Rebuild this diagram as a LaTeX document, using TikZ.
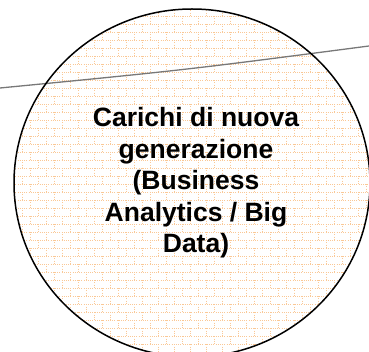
\documentclass[tikz,border=0pt]{standalone}
\usepackage{fontspec}
\setmainfont{Liberation Sans}
\definecolor{brickc}{RGB}{250,200,150}
\definecolor{linec}{RGB}{120,120,120}
\begin{document}
\begin{tikzpicture}[x=1pt,y=-1pt,
  brick/.style={draw=brickc, line width=0.6pt, dash pattern=on 0.8pt off 1.4pt},
  outline/.style={draw=black, line width=1.5pt},
  cross/.style={draw=linec, line width=1.3pt},
  label/.style={font=\bfseries\fontsize{26.5}{31.5}\selectfont, align=center, inner sep=0pt}]
\useasboundingbox (0,0) rectangle (369,352);
\begin{scope}
  \clip (192,183) ellipse [x radius=178, y radius=174];
  \fill[white] (0,0) rectangle (369,352);
  \foreach \k in {0,...,45}{
    \pgfmathsetmacro{\ya}{0.3+8*\k}
    \pgfmathsetmacro{\yb}{\ya+8}
    \pgfmathsetmacro{\off}{mod(\k,2)==0 ? 6 : 14}
    \draw[brick] (0,\ya) -- (369,\ya);
    \foreach \x in {0,...,23}{
      \draw[brick] ({\off+16*\x},\ya) -- ({\off+16*\x},\yb);
    }
  }
\end{scope}
\coordinate (l1) at (0,88);
\coordinate (l2) at (369,46);
\draw[cross] (l1) .. controls (185,70) .. (l2);
\draw[outline] (192,183) ellipse [x radius=178, y radius=174];
\node[label] (txt) at (196,183) {Carichi di nuova\\generazione\\(Business\\Analytics / Big\\Data)};
\end{tikzpicture}
\end{document}
